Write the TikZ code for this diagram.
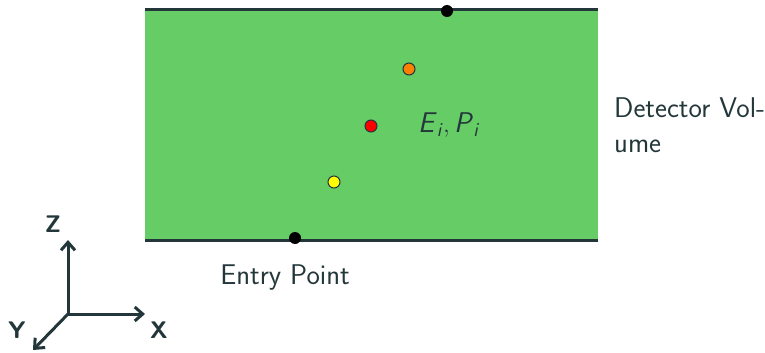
\documentclass[tikz,border=0pt]{standalone}
\usepackage{amsmath}
\usetikzlibrary{arrows.meta}
\definecolor{dk}{HTML}{23373B}
\definecolor{gr}{HTML}{66CC66}
\definecolor{orng}{HTML}{FF7F00}
\definecolor{rd}{HTML}{FF0000}
\definecolor{yl}{HTML}{FFFF00}
\begin{document}
\begin{tikzpicture}[x=1pt,y=-1pt,
  edge/.style={draw=dk,line width=3pt},
  blackdot/.style={circle,fill=black,inner sep=0pt,minimum size=12pt},
  hitdot/.style={circle,draw=dk,line width=1pt,inner sep=0pt,minimum size=12pt},
  lbl/.style={text=dk,font=\sffamily\fontsize{28.5}{35}\selectfont},
  axlbl/.style={text=dk,font=\sffamily\bfseries\fontsize{24}{28}\selectfont},
  axis/.style={draw=dk,line width=3pt,-{Straight Barb[length=8pt,width=14pt,line width=3pt]}}]
\useasboundingbox (0,0) rectangle (765,353);
\fill[gr] (145,10) rectangle (598,240);
\coordinate (tl) at (145,10); \coordinate (tr) at (598,10);
\coordinate (bl) at (145,240); \coordinate (br) at (598,240);
\draw[edge] (tl) -- (tr);
\draw[edge] (bl) -- (br);
\node[blackdot] (exit) at (447,11) {};
\node[blackdot] (entry) at (295,238) {};
\node[hitdot,fill=orng] (h1) at (409,69) {};
\node[hitdot,fill=rd] (h2) at (371,126) {};
\node[hitdot,fill=yl] (h3) at (334,182) {};
\node[lbl,anchor=base west,inner sep=0pt] (ep) at (418,132) {$\textsf{\textit{E}}_{\textsf{\textit{i}}},\textsf{\textit{P}}_{\textsf{\textit{i}}}$};
\node[lbl,anchor=base west,inner sep=0pt] (dv1) at (614,117) {Detector Vol-};
\node[lbl,anchor=base west,inner sep=0pt] (dv2) at (614,152) {ume};
\node[lbl,anchor=base,inner sep=0pt] (entrylbl) at (285,284) {Entry Point};
\coordinate (o) at (68,314);
\coordinate (zend) at (68,240);
\coordinate (xend) at (145,314);
\coordinate (yend) at (33,350);
\draw[axis] (o) -- (zend);
\draw[axis] (o) -- (xend);
\draw[axis] (o) -- (yend);
\node[axlbl] (zl) at (53,224) {Z};
\node[axlbl] (xl) at (159,330) {X};
\node[axlbl] (yl) at (17,330) {Y};
\end{tikzpicture}
\end{document}
